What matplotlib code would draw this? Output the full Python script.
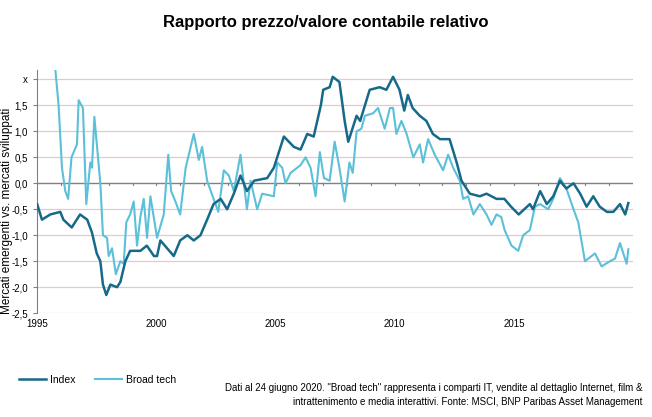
import matplotlib
matplotlib.use("Agg")
import matplotlib.pyplot as plt
from matplotlib.lines import Line2D

plt.rcParams['font.family'] = ['Liberation Sans', 'DejaVu Sans']

idx_x = [1995.0,1995.2,1995.55,1995.97,1996.1,1996.45,1996.8,1997.1,1997.3,1997.5,1997.65,1997.76,1997.9,1998.07,1998.35,1998.49,1998.7,1998.9,1999.33,1999.6,1999.9,2000.03,2000.17,2000.45,2000.73,2001.0,2001.3,2001.57,2001.85,2002.13,2002.4,2002.7,2002.97,2003.25,2003.53,2003.8,2004.1,2004.65,2004.93,2005.35,2005.77,2006.05,2006.33,2006.6,2006.9,2007.0,2007.27,2007.4,2007.68,2007.9,2008.05,2008.4,2008.55,2008.95,2009.37,2009.65,2009.93,2010.2,2010.4,2010.55,2010.75,2011.05,2011.33,2011.6,2011.9,2012.3,2012.6,2012.8,2013.15,2013.57,2013.85,2014.27,2014.6,2014.88,2015.2,2015.67,2015.8,2016.1,2016.38,2016.65,2016.93,2017.2,2017.5,2017.78,2018.05,2018.33,2018.6,2018.9,2019.17,2019.45,2019.67,2019.8]
idx_y = [-0.4,-0.7,-0.6,-0.55,-0.7,-0.85,-0.6,-0.7,-0.95,-1.35,-1.5,-1.95,-2.15,-1.95,-2.0,-1.9,-1.5,-1.3,-1.3,-1.2,-1.4,-1.4,-1.1,-1.25,-1.4,-1.1,-1.0,-1.1,-1.0,-0.7,-0.4,-0.3,-0.5,-0.2,0.15,-0.15,0.05,0.1,0.3,0.9,0.7,0.65,0.95,0.9,1.5,1.8,1.85,2.05,1.95,1.2,0.8,1.3,1.2,1.8,1.85,1.8,2.05,1.8,1.4,1.7,1.45,1.3,1.2,0.95,0.85,0.85,0.4,0.05,-0.2,-0.25,-0.2,-0.3,-0.3,-0.45,-0.6,-0.4,-0.5,-0.15,-0.4,-0.25,0.05,-0.1,0.0,-0.2,-0.45,-0.25,-0.45,-0.55,-0.55,-0.4,-0.6,-0.38]

bt_x = [1995.7,1995.9,1996.04,1996.18,1996.3,1996.44,1996.67,1996.74,1996.92,1997.06,1997.23,1997.3,1997.4,1997.65,1997.76,1997.93,1998.0,1998.14,1998.3,1998.49,1998.63,1998.74,1998.9,1999.05,1999.19,1999.33,1999.47,1999.61,1999.75,2000.03,2000.31,2000.5,2000.62,2000.8,2001.0,2001.23,2001.57,2001.78,2001.92,2002.13,2002.4,2002.6,2002.83,2003.04,2003.25,2003.53,2003.8,2003.95,2004.23,2004.44,2004.93,2005.07,2005.28,2005.42,2005.63,2006.05,2006.26,2006.47,2006.68,2006.86,2007.03,2007.27,2007.48,2007.68,2007.9,2008.1,2008.24,2008.4,2008.6,2008.75,2009.1,2009.3,2009.58,2009.8,2009.93,2010.07,2010.28,2010.5,2010.78,2011.05,2011.19,2011.4,2011.68,2012.03,2012.24,2012.45,2012.73,2012.87,2013.08,2013.3,2013.57,2013.85,2014.06,2014.27,2014.47,2014.61,2014.9,2015.18,2015.39,2015.67,2015.88,2016.1,2016.44,2016.65,2016.93,2017.2,2017.5,2017.7,2017.98,2018.4,2018.68,2019.03,2019.24,2019.45,2019.73,2019.8]
bt_y = [2.5,1.5,0.3,-0.15,-0.3,0.5,0.75,1.6,1.45,-0.4,0.4,0.3,1.28,0.0,-1.0,-1.05,-1.4,-1.25,-1.75,-1.5,-1.55,-0.75,-0.6,-0.35,-1.2,-0.65,-0.3,-1.05,-0.25,-1.05,-0.6,0.55,-0.15,-0.35,-0.6,0.3,0.95,0.45,0.7,0.05,-0.3,-0.55,0.25,0.15,-0.15,0.55,-0.5,0.05,-0.5,-0.2,-0.25,0.4,0.3,0.0,0.2,0.35,0.5,0.3,-0.25,0.6,0.1,0.05,0.8,0.3,-0.35,0.4,0.2,1.0,1.05,1.3,1.35,1.45,1.05,1.45,1.45,0.95,1.2,0.95,0.5,0.75,0.4,0.85,0.55,0.25,0.55,0.3,0.05,-0.3,-0.25,-0.6,-0.4,-0.6,-0.8,-0.6,-0.65,-0.9,-1.2,-1.3,-1.0,-0.9,-0.45,-0.4,-0.5,-0.3,0.1,-0.1,-0.5,-0.75,-1.5,-1.35,-1.6,-1.5,-1.45,-1.15,-1.55,-1.27]

ytick_vals = [-2.5,-2.0,-1.5,-1.0,-0.5,0.0,0.5,1.0,1.5,2.0]
ytick_labels = ['-2,5','-2,0','-1,5','-1,0','-0,5','0,0','0,5','1,0','1,5','x']
xtick_vals = [1995,2000,2005,2010,2015]

dark = '#17698a'
light = '#5bc0d8'

fig = plt.figure(figsize=(6.52,4.17), dpi=100)
ax = fig.add_axes([0.057,0.249,0.914,0.583])
for v in ytick_vals:
    if v != 0:
        ax.axhline(v, color='#ecc5cc', lw=0.9, zorder=0)
ax.axhline(0, color='#808080', lw=1.0, zorder=1)
ax.plot(bt_x, bt_y, color=light, lw=1.5, zorder=2)
ax.plot(idx_x, idx_y, color=dark, lw=1.8, zorder=3)
ax.set_xlim(1995, 2020.0)
ax.set_ylim(-2.5, 2.18)
ax.set_yticks(ytick_vals)
ax.set_yticklabels(ytick_labels, fontsize=7)
ax.set_xticks(xtick_vals)
ax.set_xticklabels([str(v) for v in xtick_vals], fontsize=7)
ax.tick_params(axis='x', length=0, pad=4)
ax.tick_params(axis='y', length=3, color='#808080')
for s in ['top','right','bottom']:
    ax.spines[s].set_visible(False)
ax.spines['left'].set_color('#808080')
for yr in range(1996, 2020):
    ax.plot([yr, yr], [0, -0.04], color='#808080', lw=0.8, zorder=1)
ax.set_ylabel('Mercati emergenti vs. mercati sviluppati', fontsize=8.5, labelpad=0)
ax.yaxis.set_label_coords(-0.04, 0.42)
fig.suptitle('Rapporto prezzo/valore contabile relativo', fontsize=12, fontweight='bold', y=0.965)

handles = [Line2D([0],[0],color=dark,lw=1.8), Line2D([0],[0],color=light,lw=1.5)]
fig.legend(handles, ['Index','Broad tech'], loc='lower left', bbox_to_anchor=(0.015,0.055), ncol=2, frameon=False, fontsize=7.5, handlelength=2.6, handletextpad=0.4, columnspacing=1.8)
fig.text(0.985, 0.025, 'Dati al 24 giugno 2020. "Broad tech" rappresenta i comparti IT, vendite al dettaglio Internet, film &\nintrattenimento e media interattivi. Fonte: MSCI, BNP Paribas Asset Management',
         ha='right', va='bottom', fontsize=7, linespacing=1.5)
fig.savefig('out.png', dpi=100)
